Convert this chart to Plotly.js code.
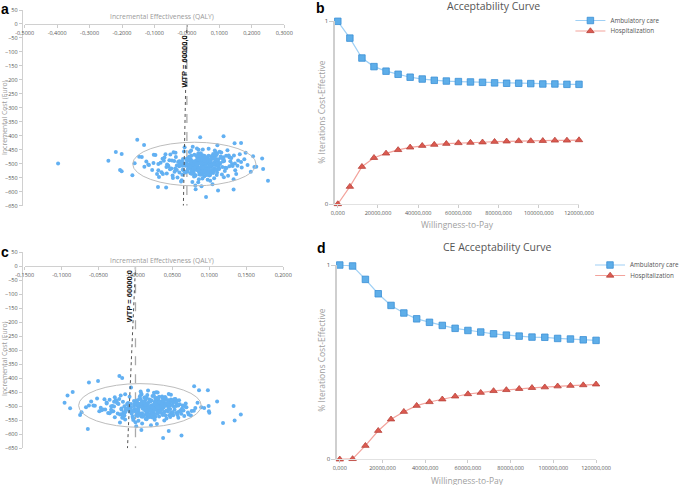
<!DOCTYPE html>
<html>
<head>
<meta charset="utf-8">
<script src="https://cdn.plot.ly/plotly-3.0.1.min.js"></script>
<style>
html,body{margin:0;padding:0;background:#fff;}
#chart{width:685px;height:485px;}
</style>
</head>
<body>
<div id="chart"></div>
<script>
// ---------- DATA ----------
const wtp = 60000;

// Panel a: cost-effectiveness plane (incremental QALY, incremental cost)
const effA = [
0.012,0.058,-0.034,0.091,0.027,-0.071,0.043,0.118,-0.005,0.066,0.019,-0.102,0.084,0.036,-0.048,0.137,0.003,0.072,-0.021,0.051,
-0.013,0.097,0.031,-0.062,0.148,0.009,0.054,-0.088,0.076,0.022,-0.039,0.109,0.045,-0.016,0.163,0.068,-0.057,0.002,0.125,0.039,
0.081,-0.027,0.014,0.061,-0.119,0.093,0.028,-0.044,0.156,0.047,-0.009,0.073,0.108,-0.075,0.033,0.017,0.131,-0.052,0.086,0.006,
0.049,-0.131,0.064,0.024,0.177,-0.023,0.099,0.041,-0.066,0.114,0.011,0.057,-0.092,0.141,0.035,-0.001,0.079,0.052,-0.147,0.102,
0.025,0.169,-0.041,0.088,0.008,0.063,-0.081,0.121,0.037,-0.012,0.095,0.018,-0.058,0.071,0.152,0.044,-0.029,0.106,0.001,0.083,
-0.107,0.055,0.029,0.134,-0.018,0.069,0.013,-0.069,0.117,0.046,0.187,-0.036,0.089,0.021,-0.125,0.062,0.004,0.127,0.039,-0.051,
0.076,0.032,-0.086,0.145,0.059,-0.007,0.098,0.016,-0.161,0.081,0.048,0.113,-0.024,0.067,0.197,0.026,-0.046,0.092,0.009,0.139,
-0.061,0.042,0.104,0.019,-0.097,0.074,0.035,0.158,-0.031,0.086,0.052,-0.014,0.122,0.007,-0.078,0.065,0.181,0.028,-0.043,0.094,
0.058,-0.139,0.011,0.083,0.036,-0.019,0.149,0.071,-0.063,0.023,0.111,0.045,-0.103,0.003,0.078,0.131,-0.035,0.054,0.096,-0.008,
0.038,0.167,-0.074,0.061,0.014,0.101,-0.054,0.085,0.027,-0.117,0.129,0.049,-0.002,0.068,0.208,0.031,-0.088,0.115,0.072,0.017,
0.041,0.066,0.012,0.083,0.029,0.054,-0.017,0.071,0.038,0.095,0.006,0.047,0.062,0.021,0.088,-0.031,0.057,0.034,0.076,0.015,
0.049,0.003,0.069,0.026,0.091,0.044,-0.009,0.059,0.018,0.081,0.037,0.064,-0.024,0.052,0.099,0.011,0.073,0.031,0.046,0.085,
0.023,0.061,-0.004,0.078,0.039,0.056,0.014,0.093,0.028,0.067,0.048,-0.038,0.074,0.033,0.107,0.019,0.058,0.042,0.086,0.008,
0.053,0.027,0.079,-0.013,0.064,0.036,0.097,0.016,0.045,0.071,0.022,0.089,0.051,-0.022,0.068,0.035,0.102,0.009,0.061,0.043,
0.075,0.017,0.055,0.032,0.084,-0.006,0.047,0.066,0.024,0.093,0.039,0.058,0.005,0.077,0.029,0.112,0.050,0.013,0.069,0.036,
0.082,0.021,0.060,0.044,-0.015,0.073,0.030,0.091,0.054,0.010,0.065,0.040,0.087,0.025,0.056,0.098,0.034,0.072,0.002,0.048,
-0.397,-0.242,-0.219,-0.201,-0.206,-0.201,-0.153,0.113,0.041,0.059,0.096,0.144,0.250,0.235,0.232,0.144,0.214,0.204,0.167,0.147,
-0.132,-0.064,-0.089,-0.168
];
const costA = [
-498,-523,-476,-505,-541,-489,-462,-514,-531,-487,-503,-468,-552,-495,-517,-479,-508,-536,-492,-470,
-521,-484,-507,-535,-499,-458,-526,-501,-473,-546,-490,-512,-481,-559,-466,-497,-509,-528,-452,-518,
-533,-494,-471,-515,-503,-464,-488,-542,-507,-524,-456,-499,-538,-482,-510,-565,-477,-520,-495,-486,
-449,-511,-557,-502,-484,-531,-519,-491,-466,-548,-514,-480,-537,-508,-463,-497,-573,-527,-475,-500,
-544,-513,-459,-490,-505,-529,-496,-471,-555,-483,-518,-439,-506,-494,-537,-511,-549,-460,-487,-525,
-522,-472,-500,-491,-563,-542,-453,-478,-526,-489,-504,-517,-458,-534,-492,-516,-481,-543,-499,-467,
-508,-485,-547,-470,-532,-441,-497,-520,-498,-465,-553,-483,-509,-446,-529,-578,-488,-540,-513,-501,
-503,-527,-474,-493,-469,-511,-566,-488,-522,-453,-496,-539,-515,-477,-530,-482,-461,-505,-551,-434,
-487,-476,-534,-500,-450,-506,-523,-541,-512,-468,-492,-580,-497,-519,-473,-509,-461,-545,-498,-527,
-516,-494,-537,-480,-502,-457,-487,-521,-591,-504,-470,-538,-483,-499,-512,-445,-523,-490,-561,-507,
-497,-512,-486,-503,-521,-478,-494,-508,-531,-489,-515,-472,-500,-526,-483,-506,-492,-518,-475,-536,
-504,-481,-495,-513,-469,-527,-499,-487,-509,-522,-476,-534,-491,-502,-517,-484,-528,-496,-511,-473,
-519,-490,-507,-480,-538,-498,-524,-485,-510,-471,-501,-529,-493,-516,-479,-505,-532,-488,-520,-474,
-496,-514,-482,-507,-525,-477,-499,-535,-486,-512,-493,-468,-518,-502,-484,-523,-497,-509,-540,-481,
-506,-491,-527,-474,-515,-500,-483,-519,-494,-531,-470,-508,-489,-522,-503,-477,-513,-496,-526,-485,
-501,-517,-480,-539,-492,-505,-472,-521,-488,-510,-533,-498,-482,-514,-475,-507,-524,-490,-503,-529,
-499,-489,-458,-465,-522,-527,-414,-402,-405,-619,-596,-592,-561,-519,-481,-555,-511,-473,-426,-427,
-433,-585,-583,-541
];
const ellipseA = [0.023, -501, 0.19, 78];   // centre x, centre y, radius x, radius y

// Panel c
const effC = [
0.004,0.027,-0.016,0.041,0.012,-0.033,0.019,0.053,-0.002,0.030,0.008,-0.047,0.038,0.015,-0.022,0.061,0.001,0.033,-0.010,0.023,
-0.006,0.044,0.014,-0.029,0.066,0.003,0.025,-0.041,0.035,0.010,-0.018,0.049,0.020,-0.008,0.072,0.031,-0.027,0.000,0.056,0.017,
0.037,-0.013,0.006,0.028,-0.055,0.042,0.013,-0.020,0.069,0.021,-0.004,0.034,0.048,-0.035,0.015,0.007,0.058,-0.024,0.039,0.002,
0.022,-0.060,0.029,0.011,0.079,-0.011,0.045,0.018,-0.030,0.051,0.005,0.026,-0.042,0.064,0.016,-0.001,0.036,0.024,-0.067,0.046,
0.012,0.075,-0.019,0.040,0.004,0.029,-0.037,0.055,0.017,-0.006,0.043,0.009,-0.026,0.032,0.068,0.020,-0.014,0.048,0.001,0.038,
-0.049,0.025,0.014,0.060,-0.009,0.031,0.006,-0.031,0.053,0.021,0.084,-0.017,0.040,0.010,-0.057,0.028,0.002,0.057,0.018,-0.023,
0.034,0.015,-0.039,0.065,0.027,-0.003,0.044,0.008,-0.073,0.036,0.022,0.051,-0.011,0.030,0.089,0.012,-0.021,0.041,0.004,0.062,
-0.028,0.019,0.047,0.009,-0.044,0.033,0.016,0.071,-0.014,0.039,0.024,-0.006,0.055,0.003,-0.035,0.029,0.081,0.013,-0.019,0.042,
0.026,-0.063,0.005,0.037,0.016,-0.008,0.067,0.032,-0.028,0.010,0.050,0.020,-0.046,0.001,0.035,0.059,-0.015,0.024,0.043,-0.003,
0.017,0.076,-0.033,0.027,0.006,0.045,-0.024,0.038,0.012,-0.052,0.058,0.022,-0.001,0.030,0.093,0.014,-0.039,0.052,0.032,0.008,
0.018,0.035,-0.004,0.027,0.009,0.044,0.013,-0.012,0.031,0.022,0.052,0.002,0.039,0.016,-0.019,0.047,0.025,0.007,0.034,0.058,
0.011,0.029,-0.008,0.041,0.020,0.005,0.036,0.015,0.049,-0.015,0.026,0.010,0.043,0.032,-0.002,0.021,0.055,0.014,0.038,0.003,
0.024,-0.025,0.046,0.012,0.030,0.019,0.061,0.006,0.037,0.017,-0.006,0.042,0.028,0.001,0.050,0.023,-0.029,0.033,0.008,0.045,
0.016,0.040,-0.010,0.026,0.011,0.053,0.021,0.004,0.035,-0.017,0.029,0.047,0.013,0.039,-0.001,0.024,0.057,0.009,0.032,0.018,
0.044,0.002,0.027,-0.021,0.036,0.015,0.050,0.007,0.031,0.020,-0.009,0.041,0.012,0.063,0.025,0.005,0.038,-0.013,0.022,0.046,
0.010,0.033,-0.032,0.028,0.017,0.048,0.003,0.036,0.023,-0.005,0.042,0.014,0.054,0.030,0.008,0.039,0.019,-0.014,0.026,0.045,
-0.096,-0.092,-0.085,-0.0885,-0.075,-0.0645,-0.063,-0.0507,-0.0218,-0.018,0.0374,0.0623,0.045,0.1105,0.1185,0.1328,0.1342,0.1426,
0.086,0.098,0.0794,0.0994,0.100,0.099
];
const costC = [
-503,-487,-521,-496,-469,-512,-538,-480,-499,-527,-458,-505,-490,-546,-474,-515,-532,-484,-508,-463,
-492,-519,-476,-501,-535,-488,-452,-511,-524,-497,-541,-482,-506,-466,-529,-500,-478,-557,-494,-513,
-472,-509,-530,-485,-498,-544,-516,-461,-503,-479,-537,-491,-459,-525,-504,-447,-520,-489,-551,-496,
-527,-483,-470,-507,-516,-493,-456,-534,-518,-486,-500,-548,-475,-497,-539,-510,-465,-522,-503,-481,
-495,-533,-511,-467,-552,-502,-524,-488,-444,-517,-498,-561,-479,-536,-490,-514,-457,-527,-483,-505,
-518,-462,-545,-493,-506,-476,-529,-499,-512,-568,-487,-540,-473,-509,-497,-450,-521,-480,-534,-492,
-501,-525,-486,-515,-471,-543,-496,-455,-521,-508,-479,-532,-491,-517,-503,-484,-558,-470,-513,-527,
-468,-504,-538,-482,-511,-494,-460,-522,-547,-489,-516,-433,-499,-535,-477,-563,-506,-493,-528,-515,
-510,-497,-474,-531,-489,-519,-502,-466,-539,-495,-523,-483,-514,-571,-498,-478,-533,-505,-492,-549,
-488,-517,-500,-537,-464,-511,-526,-485,-503,-472,-541,-496,-518,-451,-506,-530,-490,-476,-520,-585,
-506,-493,-517,-482,-525,-499,-471,-511,-488,-534,-502,-479,-520,-495,-508,-486,-530,-474,-513,-497,
-489,-516,-503,-477,-528,-492,-510,-468,-522,-500,-485,-537,-496,-514,-481,-507,-524,-490,-470,-519,
-501,-487,-532,-494,-509,-476,-515,-498,-483,-527,-505,-491,-473,-518,-496,-540,-484,-512,-502,-479,
-523,-497,-488,-508,-535,-475,-514,-493,-501,-484,-526,-510,-469,-520,-491,-504,-531,-486,-516,-499,
-478,-512,-495,-529,-483,-506,-521,-490,-472,-517,-500,-533,-487,-509,-494,-524,-480,-513,-538,-497,
-507,-484,-519,-496,-530,-476,-511,-492,-503,-527,-489,-515,-474,-505,-536,-498,-482,-521,-493,-510,
-487,-461,-449,-507,-531,-581,-415,-410,-392,-399,-613,-604,-588,-483,-560,-499,-551,-529,
-443,-443,-428,-518,-523,-499
];
const ellipseC = [0.006, -497, 0.083, 78];

const xTickValsA = [-0.5,-0.4,-0.3,-0.2,-0.1,0,0.1,0.2,0.3];
const xTickTextA = ["-0,5000","-0,4000","-0,3000","-0,2000","-0,1000","-0,0000","0,1000","0,2000","0,3000"];
const xTickValsC = [-0.15,-0.1,-0.05,0,0.05,0.1,0.15,0.2];
const xTickTextC = ["-0,1500","-0,1000","-0,0500","-0,0000","0,0500","0,1000","0,1500","0,2000"];
const yTickValsCost = [50,0,-50,-100,-150,-200,-250,-300,-350,-400,-450,-500,-550,-600,-650];

// Acceptability curves
const wtpValues = [0,6000,12000,18000,24000,30000,36000,42000,48000,54000,60000,66000,72000,78000,84000,90000,96000,102000,108000,114000,120000];
const ambB  = [1,0.908,0.799,0.752,0.727,0.710,0.694,0.684,0.677,0.673,0.670,0.668,0.666,0.663,0.661,0.661,0.659,0.657,0.657,0.655,0.655];
const hospB = [0,0.095,0.204,0.253,0.277,0.296,0.310,0.319,0.325,0.330,0.334,0.336,0.338,0.341,0.343,0.345,0.345,0.346,0.348,0.348,0.350];
const ambD  = [1,0.995,0.926,0.852,0.792,0.753,0.723,0.705,0.689,0.674,0.663,0.655,0.646,0.639,0.634,0.629,0.628,0.622,0.619,0.615,0.612];
const hospD = [0,0.002,0.070,0.147,0.206,0.245,0.276,0.295,0.309,0.324,0.336,0.343,0.352,0.357,0.363,0.368,0.371,0.376,0.379,0.382,0.386];
const wtpTickVals = [0,20000,40000,60000,80000,100000,120000];
const wtpTickText = ["0,000","20000,000","40000,000","60000,000","80000,000","100000,000","120000,000"];

// ---------- STYLE ----------
const W = 685, H = 485;
const px = v => v / W;
const py = v => 1 - v / H;
const dotColor = '#62b0f2';
const blueFill = '#5eaee9', blueEdge = '#3a8fd6', blueLine = '#9fd0f5';
const redFill = '#dc5a50', redEdge = '#b8433b', redLine = '#f3a39c';
const tickFont = {family: 'Open Sans, Noto Sans, sans-serif', size: 5.5, color: '#555'};
const titleFont = {family: 'Open Sans, Noto Sans, sans-serif', size: 6.8, color: '#9a9a9a'};

function cloud(xs, ys, xa, ya) {
  return {type: 'scatter', mode: 'markers', x: xs, y: ys, xaxis: xa, yaxis: ya,
    marker: {size: 4, color: dotColor}, showlegend: false, cliponaxis: false, hoverinfo: 'skip'};
}
function wtpLine(xa, ya) {
  return {type: 'scatter', mode: 'lines', x: [0, -650 / wtp], y: [0, -650], xaxis: xa, yaxis: ya,
    line: {color: '#555', width: 1, dash: 'dot'}, showlegend: false, hoverinfo: 'skip'};
}
function zeroLine(xa, ya) {
  return {type: 'scatter', mode: 'lines', x: [0, 0], y: [0, -650], xaxis: xa, yaxis: ya,
    line: {color: '#aaa', width: 1.3, dash: 'dash'}, showlegend: false, hoverinfo: 'skip'};
}
function curve(ys, name, xa, ya, fill, edge, ln, sym, leg) {
  return {type: 'scatter', mode: 'lines+markers', x: wtpValues, y: ys, xaxis: xa, yaxis: ya, name: name,
    legend: leg, showlegend: true, cliponaxis: false,
    line: {color: ln, width: 1.2},
    marker: {symbol: sym, size: 6.5, color: fill, line: {color: edge, width: 0.8}}};
}

const traces = [
  zeroLine('x', 'y'), cloud(effA, costA, 'x', 'y'), wtpLine('x', 'y'),
  zeroLine('x3', 'y3'), cloud(effC, costC, 'x3', 'y3'), wtpLine('x3', 'y3'),
  curve(ambB, 'Ambulatory care', 'x2', 'y2', blueFill, blueEdge, blueLine, 'square', 'legend'),
  curve(hospB, 'Hospitalization', 'x2', 'y2', redFill, redEdge, redLine, 'triangle-up', 'legend3'),
  curve(ambD, 'Ambulatory care', 'x4', 'y4', blueFill, blueEdge, blueLine, 'square', 'legend2'),
  curve(hospD, 'Hospitalization', 'x4', 'y4', redFill, redEdge, redLine, 'triangle-up', 'legend4')
];

function planeX(dom, range, pos, vals, text) {
  return {domain: dom, range: range, anchor: 'free', position: pos, tickvals: vals, ticktext: text,
    ticks: 'outside', ticklen: 3, tickcolor: '#ccc', showline: true, linecolor: '#d0d0d0', linewidth: 1.2,
    showgrid: false, zeroline: false, tickfont: tickFont};
}
function planeY(dom, pos) {
  return {domain: dom, range: [-650, 50], anchor: 'free', position: pos, tickvals: yTickValsCost,
    ticks: 'outside', ticklen: 3, tickcolor: '#ccc', showline: true, linecolor: '#d0d0d0', linewidth: 1.2,
    showgrid: false, zeroline: false, tickfont: tickFont};
}
function accX(dom, range, anchor) {
  return {domain: dom, range: range, anchor: anchor, tickvals: wtpTickVals, ticktext: wtpTickText,
    ticks: 'outside', ticklen: 3, tickcolor: '#ccc', showline: true, linecolor: '#e2e2e2', linewidth: 1,
    showgrid: false, zeroline: false, tickfont: tickFont};
}
function accY(dom, anchor) {
  return {domain: dom, range: [0, 1], anchor: anchor, tickvals: [0, 1], ticktext: ['0', '1'],
    ticks: 'outside', ticklen: 4, tickcolor: '#ccc', showline: true, linecolor: '#cfcfcf', linewidth: 1.2,
    showgrid: false, zeroline: false, tickfont: {family: 'Open Sans, sans-serif', size: 6, color: '#555'}};
}

function ellipse(e, xr, yr) {
  return {type: 'circle', xref: xr, yref: yr, x0: e[0] - e[2], x1: e[0] + e[2], y0: e[1] - e[3], y1: e[1] + e[3],
    line: {color: '#bdbdbd', width: 1}, fillcolor: 'rgba(0,0,0,0)', layer: 'above'};
}

function ann(text, x, y, font, extra) {
  return Object.assign({text: text, xref: 'paper', yref: 'paper', x: px(x), y: py(y),
    showarrow: false, xanchor: 'center', yanchor: 'middle', font: font}, extra || {});
}
function leg(x, y) {
  return {x: px(x), y: py(y), xanchor: 'left', yanchor: 'top', bgcolor: 'rgba(0,0,0,0)',
    font: {family: 'Open Sans, sans-serif', size: 6.3, color: '#555'}, itemwidth: 30};
}
const letterFont = {family: 'Liberation Sans, Arial, sans-serif', size: 14, color: '#000', weight: 'bold'};
const wtpFont = {family: 'Liberation Sans, Arial, sans-serif', size: 7.5, color: '#111', weight: 'bold'};
const chartTitleFont = {family: 'Open Sans, Noto Sans, sans-serif', size: 10.5, color: '#555'};
const axTitleFont = {family: 'Open Sans, Noto Sans, sans-serif', size: 8.5, color: '#a0a0a0'};

const layout = {
  width: W, height: H, margin: {l: 0, r: 0, t: 0, b: 0}, paper_bgcolor: '#fff', plot_bgcolor: 'rgba(0,0,0,0)',
  font: {family: 'Open Sans, sans-serif'},
  xaxis: planeX([px(25), px(288)], [-0.5, 0.3], py(24), xTickValsA, xTickTextA),
  yaxis: planeY([py(205.7), py(10)], px(22)),
  xaxis3: planeX([px(25), px(287)], [-0.15, 0.2], py(266), xTickValsC, xTickTextC),
  yaxis3: planeY([py(448.3), py(252.3)], px(22)),
  xaxis2: accX([px(339), px(586.7)], [-1620, 120000], 'y2'),
  yaxis2: accY([py(204), py(21.3)], 'x2'),
  xaxis4: accX([px(341), px(604)], [-1525, 120000], 'y4'),
  yaxis4: accY([py(459.3), py(265)], 'x4'),
  shapes: [ellipse(ellipseA, 'x', 'y'), ellipse(ellipseC, 'x3', 'y3')],
  legend: leg(578, 6),
  legend3: leg(578, 16.5),
  legend2: leg(598, 250.5),
  legend4: leg(598, 261),
  annotations: [
    ann('a', 5.5, 9, letterFont), ann('b', 325, 8, letterFont),
    ann('c', 5.5, 252, letterFont), ann('d', 326, 248, letterFont),
    ann('Incremental Effectiveness (QALY)', 164, 17, titleFont),
    ann('Incremental Effectiveness (QALY)', 164, 260, titleFont),
    ann('Incremental Cost (Euro)', 4, 117, titleFont, {textangle: -90}),
    ann('Incremental Cost (Euro)', 4, 358, titleFont, {textangle: -90}),
    ann('WTP = 60000,0', 186.5, 61.5, wtpFont, {textangle: -90}),
    ann('WTP = 60000,0', 131.5, 296.5, wtpFont, {textangle: -90}),
    ann('Acceptability Curve', 500, 6, chartTitleFont),
    ann('CE Acceptability Curve', 504, 247, chartTitleFont),
    ann('% Iterations Cost-Effective', 325, 112, axTitleFont, {textangle: -90}),
    ann('% Iterations Cost-Effective', 325, 360, axTitleFont, {textangle: -90}),
    ann('Willingness-to-Pay', 464, 224, axTitleFont),
    ann('Willingness-to-Pay', 474, 480, axTitleFont)
  ]
};

Plotly.newPlot('chart', traces, layout, {staticPlot: true, displayModeBar: false});
</script>
</body>
</html>
